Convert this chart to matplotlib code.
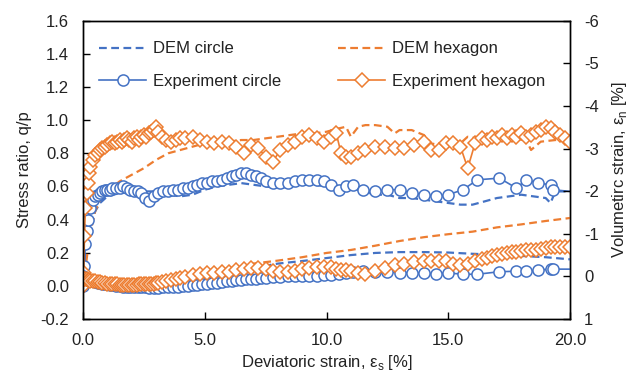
import matplotlib
matplotlib.use("Agg")
import matplotlib.pyplot as plt

plt.rcParams['font.family'] = ['Liberation Sans', 'DejaVu Sans']
plt.rcParams['axes.unicode_minus'] = False
plt.rcParams['font.size'] = 12

BLUE = '#4472C4'
ORANGE = '#ED7D31'

# ---------------- DEM circle ----------------
dem_c_q_x = [0, 0.1, 0.2, 0.3, 0.5, 0.7, 1.0, 1.5, 2.0, 2.5, 3.0, 3.5, 4.0, 4.5, 5.0, 5.5,
             6.0, 6.5, 7.0, 7.5, 8.0, 8.5, 9.0, 9.5, 10.0, 10.5, 11.0, 11.5, 12.0, 12.5,
             13.0, 13.5, 14.0, 14.5, 15.0, 15.5, 16.0, 16.5, 17.0, 17.5, 18.0, 18.5, 19.0,
             19.2, 19.4, 20.0]
dem_c_q = [0, 0.15, 0.28, 0.36, 0.45, 0.50, 0.54, 0.56, 0.57, 0.57, 0.57, 0.55, 0.54, 0.55,
           0.58, 0.60, 0.61, 0.62, 0.61, 0.60, 0.59, 0.60, 0.61, 0.61, 0.60, 0.60, 0.59, 0.57,
           0.55, 0.55, 0.53, 0.53, 0.52, 0.51, 0.50, 0.49, 0.49, 0.51, 0.53, 0.54, 0.55, 0.54,
           0.53, 0.50, 0.57, 0.57]
dem_c_v_x = [0, 0.5, 1, 2, 3, 4, 5, 6, 7, 8, 9, 10, 11, 12, 13, 14, 15, 16, 17, 18, 19, 20]
dem_c_v = [0, 0.10, 0.15, 0.18, 0.18, 0.12, 0.05, -0.06, -0.20, -0.30, -0.36, -0.43, -0.50,
           -0.55, -0.57, -0.57, -0.56, -0.53, -0.51, -0.48, -0.45, -0.40]

# ---------------- DEM hexagon ----------------
dem_h_q_x = [0, 0.1, 0.2, 0.3, 0.5, 0.7, 1.0, 1.5, 2.0, 2.5, 3.0, 3.5, 4.0, 4.5, 5.0, 5.5,
             6.0, 6.5, 7.0, 7.5, 8.0, 8.5, 9.0, 9.5, 10.0, 10.5, 10.8, 11.0, 11.3, 11.6,
             12.0, 12.5, 12.8, 13.0, 13.5, 14.0, 14.3, 14.6, 15.0, 15.5, 15.8, 16.2, 16.8,
             17.5, 18.2, 18.4, 18.8, 19.4, 20.0]
dem_h_q = [0, 0.10, 0.22, 0.32, 0.45, 0.52, 0.57, 0.63, 0.67, 0.71, 0.76, 0.80, 0.82, 0.84,
           0.86, 0.86, 0.87, 0.88, 0.88, 0.89, 0.90, 0.91, 0.92, 0.92, 0.93, 0.95, 0.96, 0.90,
           0.96, 0.97, 0.97, 0.96, 0.92, 0.94, 0.94, 0.91, 0.86, 0.85, 0.86, 0.86, 0.90, 0.89,
           0.90, 0.89, 0.88, 0.82, 0.87, 0.88, 0.88]
dem_h_v_x = [0, 0.5, 1, 2, 3, 4, 5, 6, 7, 8, 9, 10, 11, 12, 13, 14, 15, 16, 17, 18, 19, 20]
dem_h_v = [0, 0.10, 0.15, 0.18, 0.15, 0.08, -0.02, -0.14, -0.30, -0.37, -0.45, -0.55, -0.62,
           -0.72, -0.83, -0.92, -0.99, -1.05, -1.15, -1.22, -1.30, -1.37]

# ---------------- Experiment circle ----------------
exp_c_x = [0.0, 0.05, 0.1, 0.15, 0.2, 0.3, 0.4, 0.5, 0.6, 0.7, 0.8, 0.9, 1.0, 1.1, 1.2, 1.35,
           1.5, 1.65, 1.8, 1.95, 2.1, 2.25, 2.4, 2.55, 2.7, 2.9, 3.1, 3.3, 3.5, 3.7, 3.9, 4.1,
           4.3, 4.5, 4.7, 4.9, 5.1, 5.3, 5.5, 5.7, 5.9, 6.1, 6.3, 6.5, 6.7, 6.9, 7.1, 7.3,
           7.5, 7.8, 8.1, 8.4, 8.7, 9.0, 9.3, 9.6, 9.9, 10.2, 10.5, 10.8, 11.1, 11.5, 12.0,
           12.5, 13.0, 13.5, 14.0, 14.5, 15.0, 15.6, 16.2, 17.1, 17.8, 18.2, 18.7, 19.2,
           19.3, 20.0]
exp_c_q = [0.0, 0.12, 0.25, 0.33, 0.40, 0.47, 0.52, 0.54, 0.55, 0.56, 0.57, 0.58, 0.58, 0.58,
           0.59, 0.59, 0.59, 0.60, 0.59, 0.58, 0.57, 0.57, 0.56, 0.53, 0.51, 0.54, 0.56, 0.57,
           0.57, 0.58, 0.58, 0.59, 0.59, 0.60, 0.61, 0.62, 0.62, 0.63, 0.63, 0.64, 0.65, 0.66,
           0.67, 0.68, 0.68, 0.67, 0.66, 0.65, 0.63, 0.62, 0.62, 0.62, 0.63, 0.64, 0.64, 0.64,
           0.63, 0.61, 0.58, 0.60, 0.61, 0.58, 0.57, 0.58, 0.58, 0.56, 0.55, 0.54, 0.55, 0.58,
           0.64, 0.65, 0.59, 0.64, 0.62, 0.61, 0.58, 0.57]
exp_c_v = [0.0, 0.02, 0.04, 0.06, 0.08, 0.10, 0.12, 0.14, 0.15, 0.16, 0.17, 0.18, 0.19, 0.20,
           0.21, 0.22, 0.23, 0.24, 0.24, 0.25, 0.25, 0.26, 0.26, 0.26, 0.27, 0.27, 0.27, 0.26,
           0.26, 0.25, 0.24, 0.23, 0.22, 0.21, 0.20, 0.19, 0.18, 0.16, 0.15, 0.13, 0.12, 0.11,
           0.09, 0.08, 0.07, 0.06, 0.05, 0.04, 0.03, 0.02, 0.01, 0.0, 0.0, 0.0, -0.01, -0.02,
           -0.03, -0.04, -0.06, -0.08, -0.10, -0.12, -0.11, -0.10, -0.09, -0.08, -0.07, -0.06,
           -0.08, -0.05, -0.05, -0.11, -0.12, -0.12, -0.15, -0.17, -0.17, -0.17]

# ---------------- Experiment hexagon ----------------
exp_h_x = [0.0, 0.03, 0.06, 0.1, 0.15, 0.2, 0.25, 0.3, 0.4, 0.5, 0.6, 0.7, 0.8, 0.9, 1.0, 1.1,
           1.2, 1.3, 1.4, 1.5, 1.6, 1.7, 1.8, 1.9, 2.0, 2.1, 2.2, 2.3, 2.4, 2.5, 2.6, 2.7, 2.8,
           2.9, 3.0, 3.1, 3.25, 3.4, 3.6, 3.8, 4.0, 4.2, 4.5, 4.8, 5.1, 5.4, 5.7, 6.0, 6.3,
           6.6, 6.9, 7.2, 7.5, 7.8, 8.1, 8.4, 8.7, 9.0, 9.3, 9.6, 9.9, 10.2, 10.4, 10.6, 10.8,
           11.0, 11.3, 11.6, 12.0, 12.4, 12.8, 13.2, 13.6, 14.0, 14.3, 14.6, 14.9, 15.2, 15.5,
           15.8, 16.1, 16.4, 16.6, 16.8, 17.0, 17.2, 17.4, 17.6, 17.8, 18.0, 18.2, 18.4, 18.6,
           18.8, 19.0, 19.2, 19.4, 19.6, 19.8, 20.0]
exp_h_q = [0.0, 0.08, 0.30, 0.47, 0.56, 0.62, 0.68, 0.72, 0.76, 0.79, 0.80, 0.82, 0.83, 0.84,
           0.85, 0.86, 0.87, 0.86, 0.87, 0.88, 0.87, 0.88, 0.89, 0.88, 0.87, 0.89, 0.90, 0.88,
           0.90, 0.91, 0.90, 0.92, 0.93, 0.94, 0.96, 0.93, 0.90, 0.88, 0.87, 0.88, 0.89, 0.89,
           0.90, 0.88, 0.87, 0.86, 0.87, 0.86, 0.84, 0.80, 0.85, 0.83, 0.78, 0.75, 0.82, 0.85,
           0.87, 0.90, 0.91, 0.89, 0.87, 0.90, 0.92, 0.80, 0.78, 0.78, 0.80, 0.82, 0.84, 0.84,
           0.83, 0.83, 0.85, 0.87, 0.82, 0.82, 0.86, 0.86, 0.84, 0.71, 0.86, 0.89, 0.88, 0.90,
           0.89, 0.91, 0.89, 0.91, 0.90, 0.92, 0.90, 0.91, 0.93, 0.94, 0.96, 0.95, 0.93, 0.91,
           0.89, 0.87]
exp_h_v = [0.05, 0.05, 0.05, 0.06, 0.07, 0.08, 0.09, 0.10, 0.11, 0.12, 0.13, 0.14, 0.15, 0.16,
           0.17, 0.18, 0.18, 0.19, 0.19, 0.20, 0.20, 0.20, 0.20, 0.20, 0.20, 0.20, 0.20, 0.19,
           0.19, 0.19, 0.18, 0.18, 0.17, 0.17, 0.16, 0.15, 0.13, 0.11, 0.08, 0.05, 0.03, 0.01,
           -0.03, -0.06, -0.08, -0.09, -0.10, -0.11, -0.14, -0.17, -0.20, -0.20, -0.17, -0.13,
           -0.10, -0.11, -0.13, -0.17, -0.20, -0.22, -0.23, -0.21, -0.17, -0.14, -0.14, -0.12,
           -0.08, -0.05, -0.12, -0.20, -0.26, -0.30, -0.33, -0.35, -0.36, -0.36, -0.35, -0.30,
           -0.27, -0.30, -0.35, -0.40, -0.44, -0.48, -0.50, -0.53, -0.55, -0.57, -0.58, -0.60,
           -0.61, -0.62, -0.63, -0.65, -0.67, -0.68, -0.69, -0.70, -0.70, -0.70]

x_ticks = [0, 5, 10, 15, 20]
x_ticklabels = ['0.0', '5.0', '10.0', '15.0', '20.0']
yl_ticks = [-0.2, 0.0, 0.2, 0.4, 0.6, 0.8, 1.0, 1.2, 1.4, 1.6]
yl_ticklabels = ['-0.2', '0.0', '0.2', '0.4', '0.6', '0.8', '1.0', '1.2', '1.4', '1.6']
yr_ticks = [1, 0, -1, -2, -3, -4, -5, -6]
yr_ticklabels = ['1', '0', '-1', '-2', '-3', '-4', '-5', '-6']

fig = plt.figure(figsize=(6.38, 3.81), dpi=100)
ax = fig.add_axes([83/638, 1-319/381, 487/638, (319-20.7)/381])
ax2 = ax.twinx()

dash = (0, (3.5, 2))
lw_d = 1.6
ms = 8

h_dc, = ax.plot(dem_c_q_x, dem_c_q, color=BLUE, lw=lw_d, ls=dash, label='DEM circle')
h_dh, = ax.plot(dem_h_q_x, dem_h_q, color=ORANGE, lw=lw_d, ls=dash, label='DEM hexagon')
h_ec, = ax.plot(exp_c_x, exp_c_q, color=BLUE, lw=1.2, marker='o', ms=ms, mfc='white', mec=BLUE,
                mew=1.1, markevery=list(range(len(exp_c_x) - 1)), label='Experiment circle')
h_eh, = ax.plot(exp_h_x, exp_h_q, color=ORANGE, lw=1.2, marker='D', ms=ms - 1.3, mfc='white',
                mec=ORANGE, mew=1.1, label='Experiment hexagon')

ax2.plot(dem_c_v_x, dem_c_v, color=BLUE, lw=lw_d, ls=dash)
ax2.plot(dem_h_v_x, dem_h_v, color=ORANGE, lw=lw_d, ls=dash)
ax2.plot(exp_c_x, exp_c_v, color=BLUE, lw=1.2, marker='o', ms=ms, mfc='white', mec=BLUE,
         mew=1.1, markevery=list(range(len(exp_c_x) - 1)))
ax2.plot(exp_h_x, exp_h_v, color=ORANGE, lw=1.2, marker='D', ms=ms - 1.3, mfc='white', mec=ORANGE,
         mew=1.1)

ax.set_xlim(0, 20)
ax.set_ylim(-0.2, 1.6)
ax2.set_ylim(1, -6)
ax.set_xticks(x_ticks)
ax.set_xticklabels(x_ticklabels)
ax.set_yticks(yl_ticks)
ax.set_yticklabels(yl_ticklabels)
ax2.set_yticks(yr_ticks)
ax2.set_yticklabels(yr_ticklabels)

ax.tick_params(axis='both', direction='in', length=5, width=1, labelsize=12, pad=10,
               colors='black', labelcolor='#222222')
ax.tick_params(axis='y', right=False)
ax2.tick_params(axis='y', direction='in', length=5, width=1, labelsize=12, pad=10,
                labelcolor='#222222')
for a in (ax, ax2):
    for s in a.spines.values():
        s.set_color('black')
        s.set_linewidth(1.0)

ax.set_xlabel('Deviatoric strain, ε$_\\mathregular{s}$ [%]', fontsize=12, color='#222222', labelpad=4)
ax.set_ylabel('Stress ratio, q/p', fontsize=12, color='#222222', labelpad=6)
ax2.set_ylabel('Volumetirc strain, ε$_\\mathregular{n}$ [%]', fontsize=12, color='#222222', labelpad=8)

# column-major fill: column 1 = circle entries, column 2 = hexagon entries
leg = ax.legend(handles=[h_dc, h_ec, h_dh, h_eh], loc='upper left',
                bbox_to_anchor=(0.02, 0.953), ncol=2, frameon=False,
                fontsize=12, handlelength=2.8, handletextpad=0.4, columnspacing=3.44,
                labelspacing=1.07, borderaxespad=0)
for t in leg.get_texts():
    t.set_color('#222222')

fig.savefig('out.png', dpi=100)
